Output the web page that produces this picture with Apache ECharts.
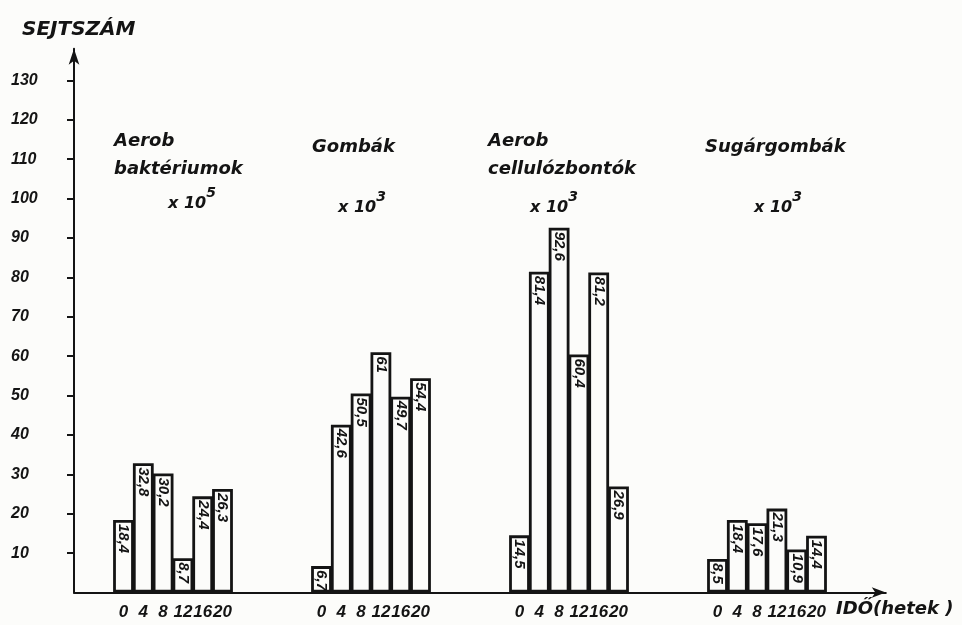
<!DOCTYPE html>
<html>
<head>
<meta charset="utf-8">
<script src="https://cdn.jsdelivr.net/npm/echarts@6/dist/echarts.min.js"></script>
<style>
  html, body { margin: 0; padding: 0; background: #fcfcfa; }
  #chart { width: 962px; height: 625px; }
</style>
</head>
<body>
<div id="chart"></div>
<script>
// Sampling times (weeks) shown under every group
const timeLabels = ['0', '4', '8', '12', '16', '20'];

// Cell counts per group, one value per sampling time
const aerobBakteriumok = [18.4, 32.8, 30.2, 8.7, 24.4, 26.3];
const gombak = [6.7, 42.6, 50.5, 61, 49.7, 54.4];
const aerobCellulozbontok = [14.5, 81.4, 92.6, 60.4, 81.2, 26.9];
const sugargombak = [8.5, 18.4, 17.6, 21.3, 10.9, 14.4];

// Y axis tick labels
const yTicks = [10, 20, 30, 40, 50, 60, 70, 80, 90, 100, 110, 120, 130];

const groups = [aerobBakteriumok, gombak, aerobCellulozbontok, sugargombak];

// Empty category slots before, between and after the groups
const leadGap = 2, midGap = 4, tailGap = 3;

const categories = [];
const values = [];
function pushGap(n) {
  for (let i = 0; i < n; i++) { categories.push(''); values.push('-'); }
}
pushGap(leadGap);
groups.forEach((g, gi) => {
  g.forEach((v, i) => { categories.push(timeLabels[i]); values.push(v); });
  pushGap(gi < groups.length - 1 ? midGap : tailGap);
});

const ink = '#141414';
const paper = '#fcfcfa';
const font = 'DejaVu Sans';
const numFont = 'Liberation Sans';

const chart = echarts.init(document.getElementById('chart'), null, { renderer: 'canvas' });

const slotW = 19.8;
const gridLeft = 74;
const zeroY = 592.5;
const pxPerUnit = 3.94;
const yMax = 138;

function titleText(x, y, text, size) {
  return {
    type: 'text', left: x, top: y,
    style: {
      text: text, fill: ink,
      font: 'italic bold ' + (size || 17) + 'px "' + font + '"'
    }
  };
}
function powerText(x, y, exp) {
  return {
    type: 'text', left: x, top: y,
    style: {
      text: '{b|x 10}{s|' + exp + '}',
      rich: {
        b: { fill: ink, fontFamily: font, fontStyle: 'italic', fontWeight: 'bold', fontSize: 16, verticalAlign: 'bottom', lineHeight: 26 },
        s: { fill: ink, fontFamily: font, fontStyle: 'italic', fontWeight: 'bold', fontSize: 14, verticalAlign: 'top', lineHeight: 26 }
      }
    }
  };
}

chart.setOption({
  backgroundColor: paper,
  animation: false,
  grid: {
    left: gridLeft,
    top: zeroY - yMax * pxPerUnit,
    width: slotW * categories.length,
    height: yMax * pxPerUnit
  },
  xAxis: {
    type: 'category',
    data: categories,
    boundaryGap: true,
    axisLine: {
      show: true,
      symbol: ['none', 'arrow'],
      symbolSize: [8, 14],
      lineStyle: { color: ink, width: 2 }
    },
    axisTick: { show: false },
    axisLabel: {
      interval: 0,
      margin: 11,
      color: ink,
      fontFamily: numFont,
      fontStyle: 'italic',
      fontWeight: 'bold',
      fontSize: 17
    },
    splitLine: { show: false }
  },
  yAxis: {
    type: 'value',
    min: 0,
    max: yMax,
    interval: 10,
    axisLine: {
      show: true,
      symbol: ['none', 'arrow'],
      symbolSize: [8, 16],
      lineStyle: { color: ink, width: 2 }
    },
    axisTick: {
      show: true,
      length: 7,
      customValues: yTicks,
      lineStyle: { color: ink, width: 2 }
    },
    axisLabel: {
      customValues: yTicks,
      margin: 63,
      color: ink,
      fontFamily: numFont,
      fontStyle: 'italic',
      fontWeight: 'bold',
      fontSize: 16,
      align: 'left'
    },
    splitLine: { show: false }
  },
  series: [{
    type: 'bar',
    data: values,
    // slightly wider than the slot so neighbouring bars share one outline
    barWidth: slotW + 1,
    itemStyle: { color: paper, borderColor: ink, borderWidth: 2.8 },
    label: {
      show: true,
      position: 'insideTop',
      distance: 4,
      rotate: -90,
      align: 'left',
      verticalAlign: 'middle',
      color: ink,
      fontFamily: numFont,
      fontStyle: 'italic',
      fontWeight: 'bold',
      fontSize: 15,
      formatter: p => String(p.value).replace('.', ',')
    }
  }],
  graphic: [
    titleText(22, 20, 'SEJTSZÁM', 20),
    titleText(114, 132, 'Aerob', 18),
    titleText(114, 160, 'baktériumok', 18),
    powerText(168, 186, '5'),
    titleText(312, 138, 'Gombák', 18),
    powerText(338, 190, '3'),
    titleText(488, 132, 'Aerob', 18),
    titleText(488, 160, 'cellulózbontók', 18),
    powerText(530, 190, '3'),
    titleText(705, 138, 'Sugárgombák', 18),
    powerText(754, 190, '3'),
    titleText(836, 600, 'IDŐ(hetek )', 18)
  ]
});
</script>
</body>
</html>
